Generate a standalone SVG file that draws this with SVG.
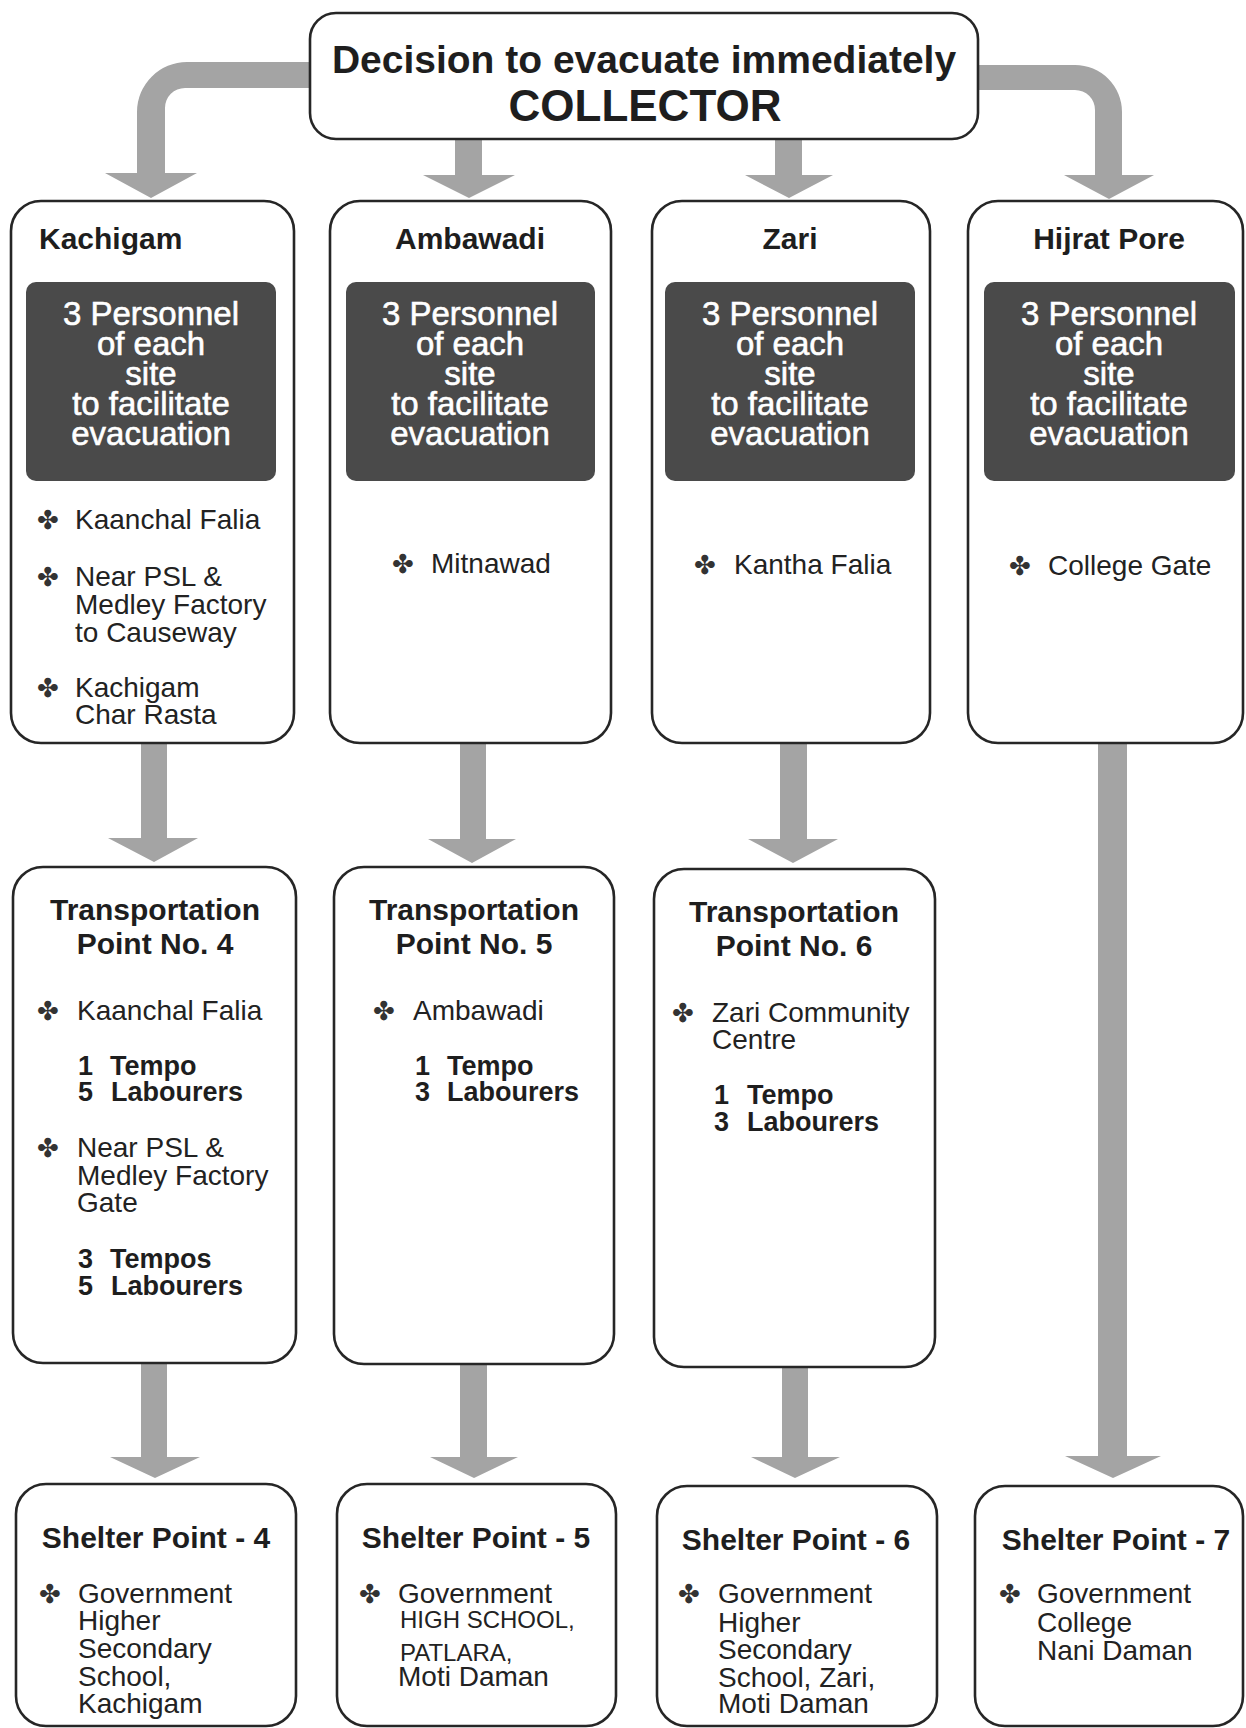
<svg xmlns="http://www.w3.org/2000/svg" width="1246" height="1728" viewBox="0 0 1246 1728">
<style>
.box{fill:#fff;stroke:#262626;stroke-width:2.6}
.dark{fill:#4a4a4a}
.arrow{fill:#a4a4a4}
.top1{font-family:"Liberation Sans",Arial,sans-serif;font-weight:bold;font-size:39px;fill:#1e1e1e;text-anchor:middle}
.top2{font-family:"Liberation Sans",Arial,sans-serif;font-weight:bold;font-size:44px;fill:#1e1e1e;text-anchor:middle}
.title{font-family:"Liberation Sans",Arial,sans-serif;font-weight:bold;font-size:30px;fill:#1e1e1e}
.mid{text-anchor:middle}
.wt{font-family:"Liberation Sans",Arial,sans-serif;font-size:33px;fill:#fff;stroke:#fff;stroke-width:0.6;text-anchor:middle}
.it{font-family:"Liberation Sans",Arial,sans-serif;font-size:28px;fill:#222}
.bd{font-family:"Liberation Sans",Arial,sans-serif;font-weight:bold;font-size:27px;fill:#1e1e1e}
.sm{font-family:"Liberation Sans",Arial,sans-serif;font-size:24px;fill:#222}
.bl{font-family:"DejaVu Sans",sans-serif;font-size:26px;fill:#333}
</style>

<g id="connectors">
  <path class="arrow" d="M312 62 L187 62 A50 50 0 0 0 137 112 L137 173 L105 173 L151 198 L197 173 L165 173 L165 108 A20 20 0 0 1 185 88 L312 88 Z"/>
  <path class="arrow" d="M975 65 L1075 65 A47 47 0 0 1 1122 112 L1122 175 L1154 175 L1109 199 L1064 175 L1095 175 L1095 110 A20 20 0 0 0 1075 90 L975 90 Z"/>
  <path class="arrow" d="M455 137 L482 137 L482 175 L515 175 L469 198 L423 175 L455 175 Z"/>
  <path class="arrow" d="M775 137 L802 137 L802 175 L833 175 L789 198 L745 175 L775 175 Z"/>
  <path class="arrow" d="M141 742 L167 742 L167 838 L198 838 L154 862 L108 838 L141 838 Z"/>
  <path class="arrow" d="M460 742 L486 742 L486 839 L516 839 L472 863 L428 839 L460 839 Z"/>
  <path class="arrow" d="M780 742 L807 742 L807 839 L838 839 L793 863 L748 839 L780 839 Z"/>
  <path class="arrow" d="M1098 742 L1127 742 L1127 1456 L1161 1456 L1113 1478 L1065 1456 L1098 1456 Z"/>
  <path class="arrow" d="M141 1361 L167 1361 L167 1457 L200 1457 L155 1478 L110 1457 L141 1457 Z"/>
  <path class="arrow" d="M460 1362 L487 1362 L487 1457 L518 1457 L474 1478 L430 1457 L460 1457 Z"/>
  <path class="arrow" d="M782 1365 L808 1365 L808 1457 L840 1457 L795 1478 L751 1457 L782 1457 Z"/>
</g>

<g id="collector">
  <rect class="box" x="310" y="13" width="668" height="126" rx="26"/>
  <text class="top1" x="644" y="73">Decision to evacuate immediately</text>
  <text class="top2" x="645" y="121">COLLECTOR</text>
</g>

<g id="kachigam">
  <rect class="box" x="11" y="201" width="283" height="542" rx="30"/>
  <text class="title" x="39" y="249">Kachigam</text>
  <rect class="dark" x="26" y="282" width="250" height="199" rx="10"/>
  <text class="wt"><tspan x="151" y="325">3 Personnel</tspan><tspan x="151" y="355">of each</tspan><tspan x="151" y="385">site</tspan><tspan x="151" y="415">to facilitate</tspan><tspan x="151" y="445">evacuation</tspan></text>
  <text class="bl" x="37" y="529">✤</text>
  <text class="it" x="75" y="529">Kaanchal Falia</text>
  <text class="bl" x="37" y="586">✤</text>
  <text class="it"><tspan x="75" y="586">Near PSL &amp;</tspan><tspan x="75" y="614">Medley Factory</tspan><tspan x="75" y="642">to Causeway</tspan></text>
  <text class="bl" x="37" y="697">✤</text>
  <text class="it"><tspan x="75" y="697">Kachigam</tspan><tspan x="75" y="724">Char Rasta</tspan></text>
</g>

<g id="ambawadi">
  <rect class="box" x="330" y="201" width="281" height="542" rx="30"/>
  <text class="title mid" x="470" y="249">Ambawadi</text>
  <rect class="dark" x="346" y="282" width="249" height="199" rx="10"/>
  <text class="wt"><tspan x="470" y="325">3 Personnel</tspan><tspan x="470" y="355">of each</tspan><tspan x="470" y="385">site</tspan><tspan x="470" y="415">to facilitate</tspan><tspan x="470" y="445">evacuation</tspan></text>
  <text class="bl" x="392" y="573">✤</text>
  <text class="it" x="431" y="573">Mitnawad</text>
</g>

<g id="zari">
  <rect class="box" x="652" y="201" width="278" height="542" rx="30"/>
  <text class="title mid" x="790" y="249">Zari</text>
  <rect class="dark" x="665" y="282" width="250" height="199" rx="10"/>
  <text class="wt"><tspan x="790" y="325">3 Personnel</tspan><tspan x="790" y="355">of each</tspan><tspan x="790" y="385">site</tspan><tspan x="790" y="415">to facilitate</tspan><tspan x="790" y="445">evacuation</tspan></text>
  <text class="bl" x="694" y="574">✤</text>
  <text class="it" x="734" y="574">Kantha Falia</text>
</g>

<g id="hijrat-pore">
  <rect class="box" x="968" y="201" width="275" height="542" rx="30"/>
  <text class="title mid" x="1109" y="249">Hijrat Pore</text>
  <rect class="dark" x="984" y="282" width="251" height="199" rx="10"/>
  <text class="wt"><tspan x="1109" y="325">3 Personnel</tspan><tspan x="1109" y="355">of each</tspan><tspan x="1109" y="385">site</tspan><tspan x="1109" y="415">to facilitate</tspan><tspan x="1109" y="445">evacuation</tspan></text>
  <text class="bl" x="1009" y="575">✤</text>
  <text class="it" x="1048" y="575">College Gate</text>
</g>

<g id="tp4">
  <rect class="box" x="13" y="867" width="283" height="496" rx="30"/>
  <text class="title mid"><tspan x="155" y="920">Transportation</tspan><tspan x="155" y="954">Point No. 4</tspan></text>
  <text class="bl" x="37" y="1020">✤</text>
  <text class="it" x="77" y="1020">Kaanchal Falia</text>
  <text class="bd"><tspan x="78" y="1075">1</tspan><tspan x="110" y="1075">Tempo</tspan><tspan x="78" y="1101">5</tspan><tspan x="111" y="1101">Labourers</tspan></text>
  <text class="bl" x="37" y="1157">✤</text>
  <text class="it"><tspan x="77" y="1157">Near PSL &amp;</tspan><tspan x="77" y="1185">Medley Factory</tspan><tspan x="77" y="1212">Gate</tspan></text>
  <text class="bd"><tspan x="78" y="1268">3</tspan><tspan x="110" y="1268">Tempos</tspan><tspan x="78" y="1295">5</tspan><tspan x="111" y="1295">Labourers</tspan></text>
</g>

<g id="tp5">
  <rect class="box" x="334" y="867" width="280" height="497" rx="30"/>
  <text class="title mid"><tspan x="474" y="920">Transportation</tspan><tspan x="474" y="954">Point No. 5</tspan></text>
  <text class="bl" x="373" y="1020">✤</text>
  <text class="it" x="413" y="1020">Ambawadi</text>
  <text class="bd"><tspan x="415" y="1075">1</tspan><tspan x="447" y="1075">Tempo</tspan><tspan x="415" y="1101">3</tspan><tspan x="447" y="1101">Labourers</tspan></text>
</g>

<g id="tp6">
  <rect class="box" x="654" y="869" width="281" height="498" rx="30"/>
  <text class="title mid"><tspan x="794" y="922">Transportation</tspan><tspan x="794" y="956">Point No. 6</tspan></text>
  <text class="bl" x="672" y="1022">✤</text>
  <text class="it"><tspan x="712" y="1022">Zari Community</tspan><tspan x="712" y="1049">Centre</tspan></text>
  <text class="bd"><tspan x="714" y="1104">1</tspan><tspan x="747" y="1104">Tempo</tspan><tspan x="714" y="1131">3</tspan><tspan x="747" y="1131">Labourers</tspan></text>
</g>

<g id="shelter4">
  <rect class="box" x="16" y="1484" width="280" height="242" rx="30"/>
  <text class="title mid" x="156" y="1548">Shelter Point - 4</text>
  <text class="bl" x="39" y="1603">✤</text>
  <text class="it"><tspan x="78" y="1603">Government</tspan><tspan x="78" y="1630">Higher</tspan><tspan x="78" y="1658">Secondary</tspan><tspan x="78" y="1686">School,</tspan><tspan x="78" y="1713">Kachigam</tspan></text>
</g>

<g id="shelter5">
  <rect class="box" x="337" y="1484" width="279" height="242" rx="30"/>
  <text class="title mid" x="476" y="1548">Shelter Point - 5</text>
  <text class="bl" x="359" y="1603">✤</text>
  <text class="it" x="398" y="1603">Government</text>
  <text class="sm"><tspan x="400" y="1628">HIGH SCHOOL,</tspan><tspan x="400" y="1661">PATLARA,</tspan></text>
  <text class="it" x="398" y="1686">Moti Daman</text>
</g>

<g id="shelter6">
  <rect class="box" x="657" y="1486" width="280" height="240" rx="30"/>
  <text class="title mid" x="796" y="1550">Shelter Point - 6</text>
  <text class="bl" x="678" y="1603">✤</text>
  <text class="it"><tspan x="718" y="1603">Government</tspan><tspan x="718" y="1632">Higher</tspan><tspan x="718" y="1659">Secondary</tspan><tspan x="718" y="1687">School, Zari,</tspan><tspan x="718" y="1713">Moti Daman</tspan></text>
</g>

<g id="shelter7">
  <rect class="box" x="975" y="1486" width="268" height="240" rx="30"/>
  <text class="title mid" x="1116" y="1550">Shelter Point - 7</text>
  <text class="bl" x="999" y="1603">✤</text>
  <text class="it"><tspan x="1037" y="1603">Government</tspan><tspan x="1037" y="1632">College</tspan><tspan x="1037" y="1660">Nani Daman</tspan></text>
</g>
</svg>
